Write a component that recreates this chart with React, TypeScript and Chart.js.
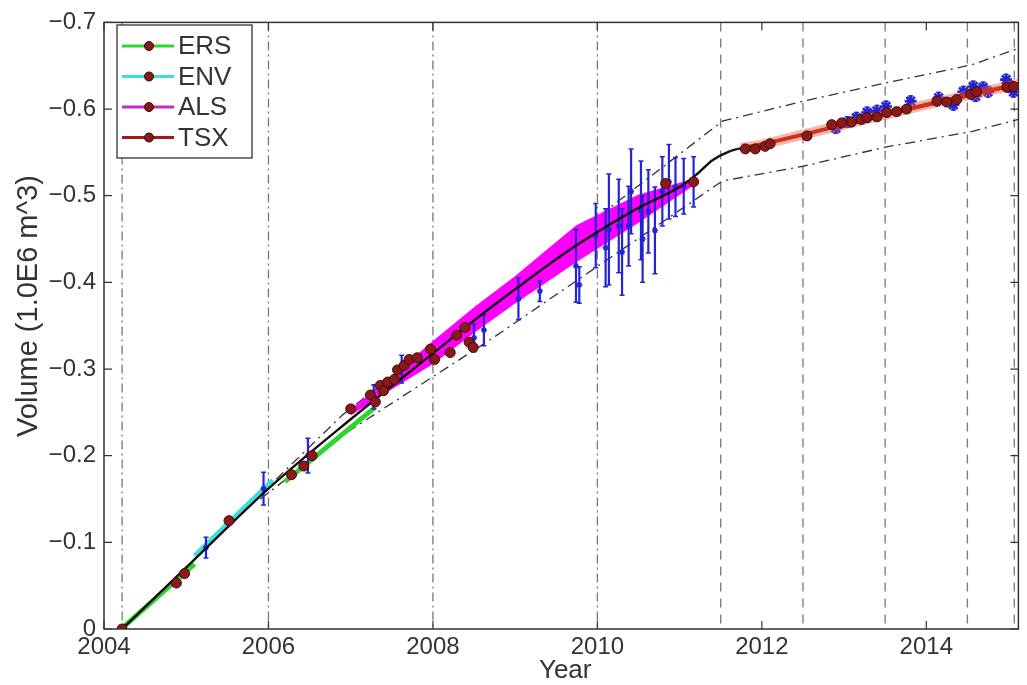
import React, { useEffect, useRef } from "react";
import { Chart, registerables } from "chart.js";

Chart.register(...registerables);

// ---------- data ----------
const xTickValues = [2004, 2006, 2008, 2010, 2012, 2014];
const yTickValues = [0, -0.1, -0.2, -0.3, -0.4, -0.5, -0.6, -0.7];
const legendLabels = ["ERS", "ENV", "ALS", "TSX"];

const epochYears = [2004.22, 2006.0, 2008.0, 2010.0, 2011.5, 2012.5, 2013.5, 2014.5, 2015.07];

const modelYears = [2004.22, 2005.0, 2006.0, 2007.0, 2008.0, 2008.5, 2009.0, 2009.75, 2010.5, 2011.0, 2011.2, 2011.4, 2011.6, 2011.8, 2012.0, 2013.0, 2014.0, 2015.12];
const modelVolume = [0, -0.071, -0.162, -0.242, -0.318, -0.356, -0.392, -0.443, -0.486, -0.51, -0.524, -0.541, -0.551, -0.556, -0.56, -0.582, -0.604, -0.628];

const upperYears = [2005.9, 2006.9, 2008.6, 2011.52, 2012.5, 2013.5, 2014.55, 2015.12];
const upperVolume = [-0.155, -0.247, -0.373, -0.586, -0.609, -0.63, -0.651, -0.67];
const lowerYears = [2005.9, 2006.97, 2008.7, 2011.52, 2012.5, 2013.5, 2014.55, 2015.12];
const lowerVolume = [-0.15, -0.228, -0.334, -0.517, -0.534, -0.556, -0.574, -0.588];

// ERS: two acquisition periods
const ersEarlyYears = [2004.22, 2005.1];
const ersEarlyVolume = [-0.001, -0.075];
const ersLateYears = [2006.2, 2007.3];
const ersLateVolume = [-0.17, -0.256];
const envYears = [2005.1, 2005.6, 2006.05];
const envVolume = [-0.085, -0.131, -0.172];

const alsYears = [2007.0, 2007.5, 2008.0, 2008.53, 2009.0, 2009.75, 2010.5, 2011.15];
const alsUpper = [-0.252, -0.29, -0.331, -0.372, -0.406, -0.465, -0.5, -0.518];
const alsLower = [-0.248, -0.278, -0.307, -0.345, -0.377, -0.425, -0.47, -0.512];

const tsxYears = [2011.75, 2012.0, 2013.0, 2014.0, 2015.12];
const tsxVolume = [-0.555, -0.559, -0.582, -0.605, -0.629];

const markerYears = [
  2004.22, 2004.88, 2004.98, 2005.52, 2006.28, 2006.43, 2006.53, 2007.0,
  2007.24, 2007.3, 2007.36, 2007.4, 2007.45, 2007.53, 2007.57, 2007.65, 2007.71, 2007.81, 2007.97, 2008.02, 2008.21, 2008.29, 2008.39, 2008.44, 2008.49,
  2010.83, 2011.17,
  2011.8, 2011.92, 2012.04, 2012.1, 2012.55, 2012.85, 2012.97, 2013.09, 2013.21, 2013.28, 2013.4, 2013.52, 2013.64, 2013.76, 2014.13, 2014.25, 2014.37, 2014.54, 2014.61, 2014.98, 2015.06,
];
const markerVolume = [
  0, -0.053, -0.064, -0.125, -0.178, -0.188, -0.2, -0.254,
  -0.27, -0.262, -0.281, -0.275, -0.285, -0.288, -0.299, -0.304, -0.311, -0.313, -0.323, -0.311, -0.319, -0.339, -0.348, -0.331, -0.325,
  -0.514, -0.516,
  -0.554, -0.554, -0.557, -0.56, -0.569, -0.582, -0.584, -0.585, -0.588, -0.59, -0.591, -0.596, -0.597, -0.6, -0.609, -0.608, -0.611, -0.617, -0.62, -0.625, -0.626,
];

const obsYears = [
  2005.24, 2005.94, 2006.48, 2007.28, 2007.62, 2008.5, 2008.62, 2009.04, 2009.3,
  2009.74, 2009.78, 2009.98, 2010.1, 2010.14, 2010.26, 2010.3, 2010.38, 2010.41, 2010.53, 2010.55, 2010.62, 2010.7, 2010.79, 2010.87, 2010.95, 2011.05, 2011.17,
  2012.9, 2013.04, 2013.15, 2013.28, 2013.4, 2013.51, 2013.81, 2014.15, 2014.33, 2014.45, 2014.57, 2014.6, 2014.69, 2014.75, 2014.97, 2015.0, 2015.06,
];
const obsVolume = [
  -0.094, -0.162, -0.2, -0.268, -0.3, -0.336, -0.345, -0.381, -0.39,
  -0.419, -0.397, -0.454, -0.44, -0.461, -0.465, -0.435, -0.465, -0.505, -0.483, -0.45, -0.482, -0.46, -0.505, -0.516, -0.51, -0.511, -0.516,
  -0.578, -0.585, -0.59, -0.596, -0.598, -0.603, -0.609, -0.613, -0.605, -0.62, -0.626, -0.615, -0.625, -0.62, -0.634, -0.628, -0.62,
];
const obsError = [
  0.012, 0.019, 0.02, 0.014, 0.016, 0.016, 0.018, 0.024, 0.012,
  0.042, 0.021, 0.037, 0.045, 0.064, 0.054, 0.05, 0.046, 0.049, 0.057, 0.05, 0.048, 0.05, 0.04, 0.043, 0.034, 0.032, 0.029,
  0.006, 0.006, 0.006, 0.006, 0.006, 0.006, 0.006, 0.006, 0.006, 0.006, 0.006, 0.006, 0.006, 0.006, 0.006, 0.006, 0.006,
];

// ---------- styling ----------
const FONT = '"Liberation Sans", Arial, Helvetica, sans-serif';
const TEXT = "#333";
const C_ERS = "#2fd42f";
const C_ENV = "#3fdede";
const C_ALS = "#ff00ff";
const C_TSX = "#d2301a";
const C_MARK = "#8a1a1a";
const C_BLUE = "#2424d6";

const pts = (xs: number[], ys: number[]) => xs.map((x, i) => ({ x, y: ys[i] }));

const framePlugin = {
  id: "frame",
  afterDraw(chart: any) {
    const { ctx, chartArea: a, scales } = chart;
    ctx.save();
    ctx.strokeStyle = "#333";
    ctx.lineWidth = 1.5;
    ctx.strokeRect(a.left, a.top, a.right - a.left, a.bottom - a.top);
    ctx.lineWidth = 1.2;
    ctx.beginPath();
    xTickValues.forEach((v) => {
      const px = scales.x.getPixelForValue(v);
      ctx.moveTo(px, a.bottom);
      ctx.lineTo(px, a.bottom - 8);
      ctx.moveTo(px, a.top);
      ctx.lineTo(px, a.top + 8);
    });
    yTickValues.forEach((v) => {
      const py = scales.y.getPixelForValue(v);
      ctx.moveTo(a.left, py);
      ctx.lineTo(a.left + 8, py);
      ctx.moveTo(a.right, py);
      ctx.lineTo(a.right - 8, py);
    });
    ctx.stroke();

    // axis titles
    ctx.fillStyle = TEXT;
    ctx.textAlign = "center";
    ctx.textBaseline = "middle";
    ctx.font = `26px ${FONT}`;
    ctx.fillText("Year", (a.left + a.right) / 2 + 4, 671);
    ctx.save();
    ctx.translate(29, 306);
    ctx.rotate(-Math.PI / 2);
    ctx.font = `29px ${FONT}`;
    ctx.fillText("Volume (1.0E6 m^3)", 0, 0);
    ctx.restore();

    // legend
    const colors = [C_ERS, C_ENV, "#c030c8", "#a01818"];
    const bx = 117, by = 25, bw = 135, bh = 133;
    ctx.fillStyle = "#fff";
    ctx.fillRect(bx, by, bw, bh);
    ctx.strokeStyle = "#333";
    ctx.lineWidth = 1.3;
    ctx.strokeRect(bx, by, bw, bh);
    ctx.font = `26px ${FONT}`;
    ctx.textAlign = "left";
    legendLabels.forEach((lab, i) => {
      const yy = by + 21 + i * 30.5;
      ctx.strokeStyle = colors[i];
      ctx.lineWidth = 3;
      ctx.beginPath();
      ctx.moveTo(122, yy);
      ctx.lineTo(174, yy);
      ctx.stroke();
      ctx.fillStyle = C_MARK;
      ctx.strokeStyle = "#3a0505";
      ctx.lineWidth = 1;
      ctx.beginPath();
      ctx.arc(149, yy, 4.5, 0, Math.PI * 2);
      ctx.fill();
      ctx.stroke();
      ctx.fillStyle = TEXT;
      ctx.fillText(lab, 178, yy + 1);
    });
    ctx.restore();
  },
};

export default function App() {
  const ref = useRef<HTMLCanvasElement | null>(null);

  useEffect(() => {
    if (!ref.current) return;
    const datasets: any[] = [];
    const base = { pointRadius: 0, fill: false };

    epochYears.forEach((yr) => {
      datasets.push({
        ...base,
        data: [{ x: yr, y: -0.7 }, { x: yr, y: 0 }],
        borderColor: "#777",
        borderWidth: 1.3,
        borderDash: yr <= 2010.01 ? [9, 4, 2, 4] : [9, 7],
        order: 100,
      });
    });

    datasets.push({ ...base, data: pts(upperYears, upperVolume), borderColor: "#333", borderWidth: 1.3, borderDash: [10, 5, 2, 5], order: 90 });
    datasets.push({ ...base, data: pts(lowerYears, lowerVolume), borderColor: "#333", borderWidth: 1.3, borderDash: [10, 5, 2, 5], order: 90 });

    datasets.push({ ...base, data: pts(ersEarlyYears, ersEarlyVolume), borderColor: C_ERS, borderWidth: 5, order: 80 });
    datasets.push({ ...base, data: pts(ersLateYears, ersLateVolume), borderColor: C_ERS, borderWidth: 5, order: 80 });
    datasets.push({ ...base, data: pts(envYears, envVolume), borderColor: C_ENV, borderWidth: 4, order: 79 });

    const alsLowerIndex = datasets.length;
    datasets.push({ ...base, data: pts(alsYears, alsLower), borderColor: C_ALS, borderWidth: 2, order: 70 });
    datasets.push({
      ...base,
      data: pts(alsYears, alsUpper),
      borderColor: C_ALS,
      borderWidth: 2,
      backgroundColor: C_ALS,
      fill: alsLowerIndex,
      order: 70,
    });

    // error bars
    const barData: any[] = [];
    obsYears.forEach((yr, i) => {
      barData.push({ x: yr, y: obsVolume[i] - obsError[i] });
      barData.push({ x: yr, y: obsVolume[i] + obsError[i] });
      barData.push({ x: yr + 0.001, y: null });
    });
    datasets.push({
      ...base,
      data: barData,
      spanGaps: false,
      borderColor: C_BLUE,
      borderWidth: 2.2,
      pointStyle: "line",
      pointRadius: 2.5,
      pointBorderColor: C_BLUE,
      pointBorderWidth: 1.5,
      order: 60,
    });
    datasets.push({
      ...base,
      data: pts(obsYears, obsVolume),
      showLine: false,
      pointStyle: "star",
      pointRadius: (c: any) => (obsError[c.dataIndex] < 0.01 ? 6 : 3),
      pointBorderColor: C_BLUE,
      pointBorderWidth: (c: any) => (obsError[c.dataIndex] < 0.01 ? 2.6 : 1.5),
      order: 59,
    });

    datasets.push({ ...base, data: pts(modelYears, modelVolume), borderColor: "#111", borderWidth: 2.4, cubicInterpolationMode: "monotone", order: 50 });

    datasets.push({ ...base, data: pts(tsxYears, tsxVolume), borderColor: "rgba(240,90,70,0.45)", borderWidth: 10, order: 45 });
    datasets.push({ ...base, data: pts(tsxYears, tsxVolume), borderColor: C_TSX, borderWidth: 4, order: 44 });

    datasets.push({
      ...base,
      data: pts(markerYears, markerVolume),
      showLine: false,
      pointRadius: 5,
      pointBackgroundColor: C_MARK,
      pointBorderColor: "#400808",
      pointBorderWidth: 1,
      order: 10,
    });

    const chart = new Chart(ref.current, {
      type: "line",
      data: { datasets },
      options: {
        animation: false,
        responsive: false,
        devicePixelRatio: 1,
        layout: { padding: { top: 17, right: 2, left: 0, bottom: 0 } },
        plugins: { legend: { display: false }, tooltip: { enabled: false } },
        elements: { line: { tension: 0 } },
        scales: {
          x: {
            type: "linear",
            min: 2004,
            max: 2015.12,
            grid: { display: false, drawTicks: false },
            border: { display: false },
            afterBuildTicks: (s: any) => {
              s.ticks = xTickValues.map((v) => ({ value: v }));
            },
            afterFit: (s: any) => {
              s.height = 56;
            },
            ticks: {
              autoSkip: false,
              maxRotation: 0,
              padding: 4,
              color: TEXT,
              font: { family: FONT, size: 24 },
              callback: (v: any) => String(v),
            },
          },
          y: {
            type: "linear",
            reverse: true,
            min: -0.7,
            max: 0,
            grid: { display: false, drawTicks: false },
            border: { display: false },
            afterBuildTicks: (s: any) => {
              s.ticks = yTickValues.map((v) => ({ value: v }));
            },
            afterFit: (s: any) => {
              s.width = 104;
            },
            ticks: {
              autoSkip: false,
              padding: 8,
              color: TEXT,
              font: { family: FONT, size: 24 },
              callback: (v: any) => (Math.abs(v) < 1e-9 ? "0" : "\u2212" + Math.abs(v).toFixed(1)),
            },
          },
        },
      },
      plugins: [framePlugin],
    } as any);
    return () => chart.destroy();
  }, []);

  return (
    <div style={{ position: "fixed", left: 0, top: 0, width: 1027, height: 685, background: "#fff" }}>
      <canvas ref={ref} width={1027} height={685} style={{ display: "block" }} />
    </div>
  );
}
